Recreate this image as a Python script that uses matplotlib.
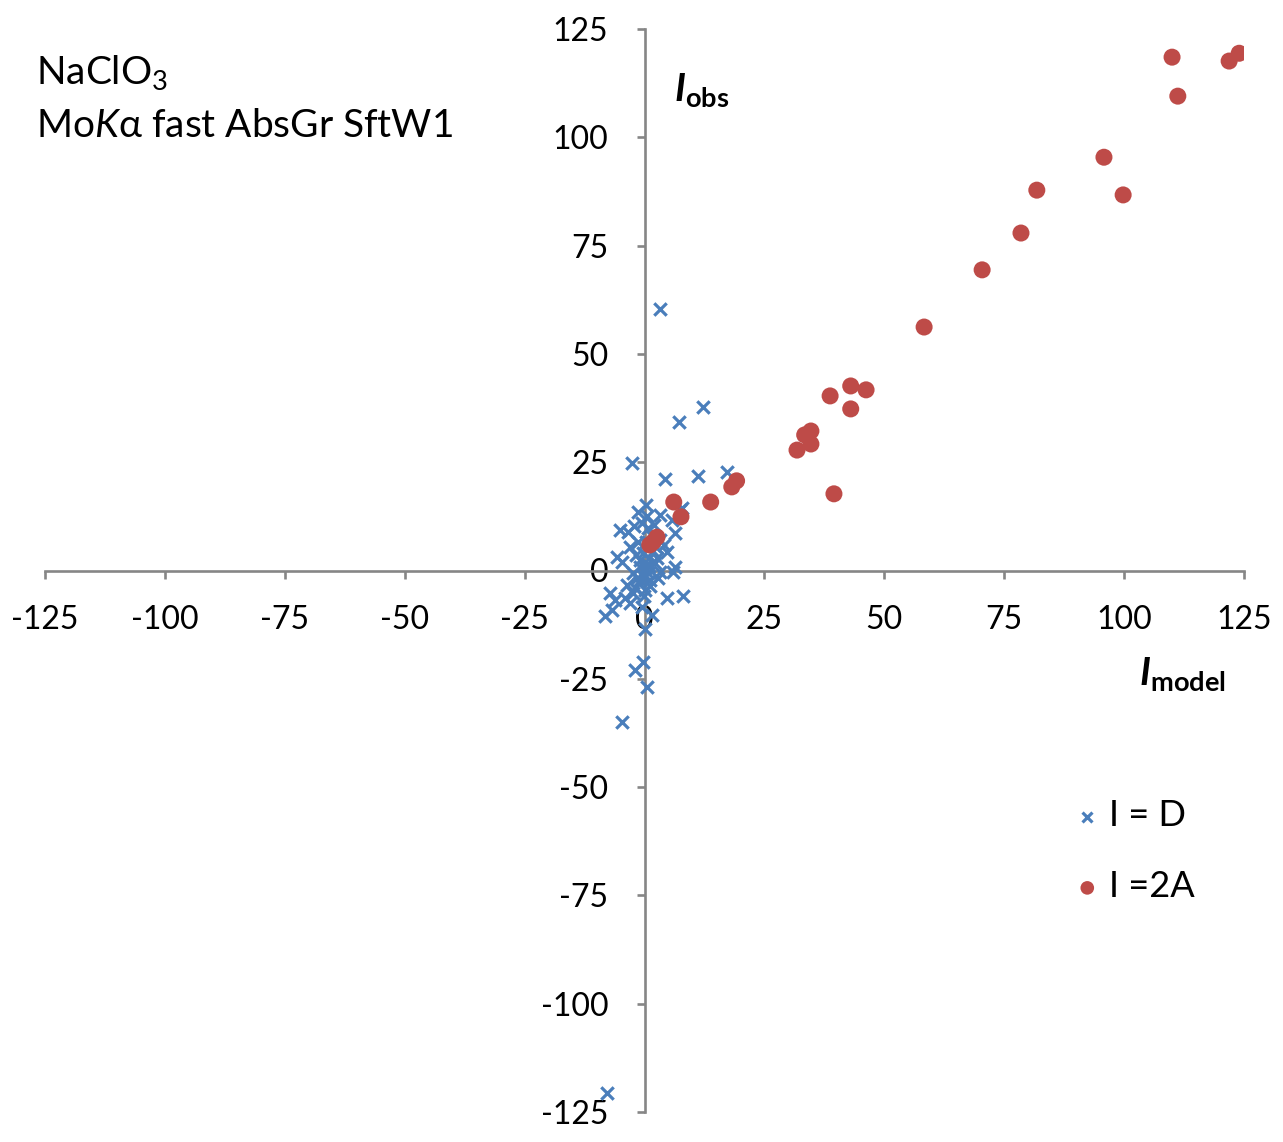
import matplotlib
matplotlib.use('Agg')
import matplotlib.pyplot as plt

# Datos (I_model, I_obs)
d_x = [3.2, 12.2, 7.2, -2.6, 4.3, 11.1, 17.2, 7.4, -7.8, -4.7, -2.0, -0.3, 0.5,
       -8.2, -6.8, 1.6, 0.1, 8.0, 4.6,
       0.4, -1.4, 3.2, 7.8, 5.7, -5.1, -3.4, 0.7, 6.4, 3.2, -3.0, -1.4, 4.7,
       -5.7, -4.7, -0.9, 2.2, 6.4, -0.3, 0.7, 3.2, 5.9, -2.4, -0.9, 1.1,
       -3.6, 2.8, -7.2, -6.2, -4.1, -2.4, 0.1, -3.0, -0.5, -2.0,
       0.2, 0.5, -0.4, 1.0, 0.3, 1.5, -0.6, 2.0, 0.8, -1.0, 1.8, -1.8,
       1.2, -0.2, 0.6, -2.2, 2.6, -1.2, 0.9, 0.0, 2.4, 4.0, -1.6]
d_y = [60.4, 37.7, 34.3, 24.8, 21.1, 21.8, 22.7, 14.0, -120.6, -35.0, -23.0, -21.1, -26.9,
       -10.5, -9.2, -10.3, -13.5, -6.0, -6.3,
       15.1, 13.5, 12.8, 14.4, 11.7, 9.4, 8.9, 9.8, 8.7, 7.0, 5.4, 6.6, 4.3,
       3.1, 2.0, 2.4, 1.7, 0.8, 4.0, 5.4, -0.3, -0.3, -0.6, -2.2, -2.2,
       -3.3, -1.7, -5.2, -6.8, -6.3, -5.2, -4.5, -7.5, -8.4, -4.0,
       0.5, 1.5, -1.0, 3.0, 6.5, 8.0, 11.0, 10.5, -0.5, 0.8, 4.5, 3.5,
       -3.5, -6.0, 12.5, 10.2, 3.0, -2.8, 1.0, -1.5, 5.5, 6.0, -1.8]

a_x = [124.0, 121.9, 110.0, 111.2, 95.8, 99.8, 81.8, 78.5, 70.4, 58.3, 43.0, 46.2,
       38.7, 43.0, 34.7, 33.4, 34.7, 31.8, 39.5, 19.2, 18.2, 13.8, 6.1, 7.6,
       2.6, 1.8, 1.1]
a_y = [119.4, 117.6, 118.5, 109.5, 95.4, 86.7, 87.8, 77.9, 69.4, 56.2, 42.6, 41.7,
       40.3, 37.3, 32.2, 31.3, 29.2, 27.8, 17.7, 20.7, 19.3, 15.8, 15.8, 12.4,
       7.7, 6.6, 5.9]

ticks = [-125, -100, -75, -50, -25, 0, 25, 50, 75, 100, 125]

plt.rcParams['font.family'] = ['Lato', 'DejaVu Sans']
plt.rcParams['mathtext.fontset'] = 'custom'
plt.rcParams['mathtext.rm'] = 'Lato'
plt.rcParams['mathtext.it'] = 'Lato:italic'
plt.rcParams['mathtext.bf'] = 'Lato:bold'
plt.rcParams['mathtext.bfit'] = 'Lato:bold:italic'
plt.rcParams['mathtext.fallback'] = 'stix'
plt.rcParams['axes.unicode_minus'] = False

gris = '#868686'
azul = '#4A7EBB'
rojo = '#BE4B48'

fig = plt.figure(figsize=(12.83, 11.42), dpi=100)
ax = fig.add_axes([45 / 1283, 30 / 1142, 1199 / 1283, 1083 / 1142])

ax.scatter(d_x, d_y, marker='x', s=80, linewidths=2.3, color=azul, label='I = D', zorder=3)
ax.scatter(a_x, a_y, marker='o', s=150, color=rojo, edgecolors='none', label='I =2A', zorder=4)

ax.set_xlim(-125, 125)
ax.set_ylim(-125, 125)
ax.set_xticks(ticks)
ax.set_yticks(ticks)

for s in ['top', 'right']:
    ax.spines[s].set_visible(False)
for s in ['left', 'bottom']:
    ax.spines[s].set_position(('data', 0))
    ax.spines[s].set_color(gris)
    ax.spines[s].set_linewidth(1.9)

ax.tick_params(axis='x', direction='out', length=6, width=1.9, color=gris,
               pad=19, labelsize=23)
ax.tick_params(axis='y', direction='out', length=6, width=1.9, color=gris,
               pad=20, labelsize=23)

# Etiquetas de ejes
ax.text(674 / 1283, 1 - 101 / 1142, r'$\mathbfit{I}_{\mathbf{obs}}$', transform=fig.transFigure,
        fontsize=28, ha='left', va='baseline')
ax.text(1139 / 1283, 1 - 685 / 1142, r'$\mathbfit{I}_{\mathbf{model}}$', transform=fig.transFigure,
        fontsize=28, ha='left', va='baseline')

# Titulo
fig.text(36 / 1283, 1 - 84 / 1142, r'NaClO$_3$', fontsize=28, ha='left', va='baseline')
fig.text(36 / 1283, 1 - 137 / 1142, r'Mo$\mathit{K}$α fast AbsGr SftW1', fontsize=28,
         ha='left', va='baseline')

leg = ax.legend(loc='upper left', bbox_to_anchor=(1062 / 1283, 1 - 785 / 1142),
                bbox_transform=fig.transFigure, frameon=False, fontsize=26,
                handlelength=0.6, handletextpad=0.3, labelspacing=1.05,
                markerscale=0.8, borderaxespad=0)

fig.savefig('out.png', dpi=100)
